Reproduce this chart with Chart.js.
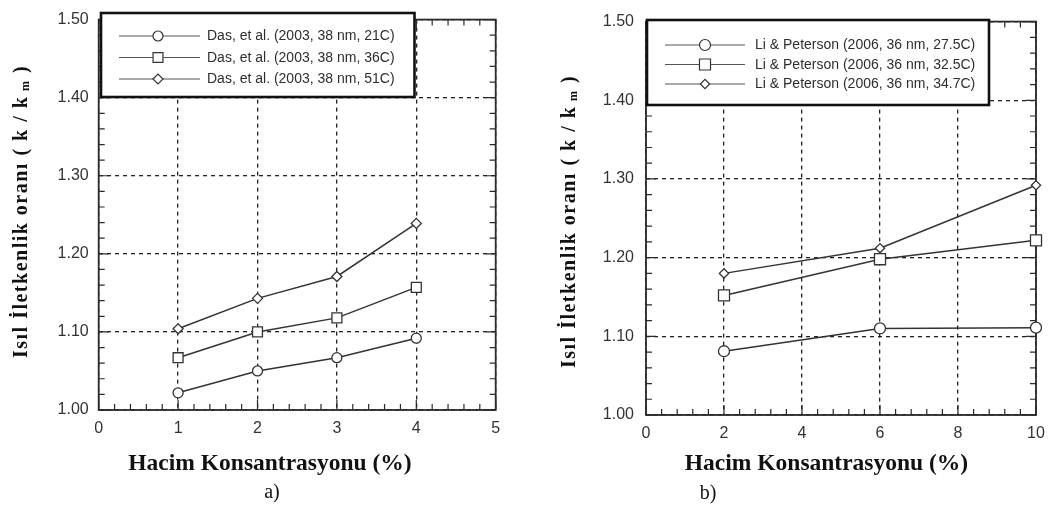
<!DOCTYPE html>
<html>
<head>
<meta charset="utf-8">
<script src="https://cdn.jsdelivr.net/npm/chart.js@4/dist/chart.umd.min.js"></script>
<style>
  html, body { margin: 0; padding: 0; background: #fff; }
  #wrap { position: relative; width: 1056px; height: 511px; overflow: hidden; }
  canvas { position: absolute; top: 0; }
  #chartA { left: 0; }
  #chartB { left: 528px; }
</style>
</head>
<body>
<div id="wrap">
  <canvas id="chartA" width="528" height="511"></canvas>
  <canvas id="chartB" width="528" height="511"></canvas>
</div>
<script>
// a) Das et al. 2003 - volume fraction (%) vs k/km
const volA = [1, 2, 3, 4];
const das21C = [1.022, 1.050, 1.067, 1.092];
const das36C = [1.067, 1.100, 1.118, 1.157];
const das51C = [1.104, 1.143, 1.171, 1.239];
const labelsA = ["Das, et al. (2003, 38 nm, 21C)", "Das, et al. (2003, 38 nm, 36C)", "Das, et al. (2003, 38 nm, 51C)"];

// b) Li & Peterson 2006
const volB = [2, 6, 10];
const li275C = [1.081, 1.110, 1.111];
const li325C = [1.152, 1.198, 1.222];
const li347C = [1.180, 1.212, 1.292];
const labelsB = ["Li & Peterson (2006, 36 nm, 27.5C)", "Li & Peterson (2006, 36 nm, 32.5C)", "Li & Peterson (2006, 36 nm, 34.7C)"];

const yTickLabels = ["1.00", "1.10", "1.20", "1.30", "1.40", "1.50"];
const yTitle = "Isıl İletkenlik oranı ( k / k";
const yTitleSub = "m";
const yTitleEnd = " )";
const xTitle = "Hacim Konsantrasyonu (%)";

const INK = "#2a2a2a";
const SANS = '"Liberation Sans", Arial, sans-serif';
const SERIF = '"Liberation Serif", "Times New Roman", serif';
const markers = ["circle", "rect", "rectRot"];

const pts = (xs, ys) => xs.map((x, i) => ({ x: x, y: ys[i] }));

// frame, inward ticks, boxed legend and the serif titles
function decor(o) {
  return {
    id: "decor",
    beforeDatasetsDraw(chart) {
      const ctx = chart.ctx, a = chart.chartArea;
      const xs = chart.scales.x, ys = chart.scales.y;
      ctx.save();
      ctx.strokeStyle = INK;
      ctx.lineWidth = 1.2;
      ctx.beginPath();
      const nx = Math.round(o.xMax / o.xMinor), xEvery = Math.round(o.xStep / o.xMinor);
      for (let i = 0; i <= nx; i++) {
        const px = xs.getPixelForValue(i * o.xMinor);
        const len = i % xEvery === 0 ? 10 : 6;
        ctx.moveTo(px, a.bottom); ctx.lineTo(px, a.bottom - len);
        ctx.moveTo(px, a.top); ctx.lineTo(px, a.top + len);
      }
      const ny = 25;
      for (let i = 0; i <= ny; i++) {
        const py = ys.getPixelForValue(1 + i * 0.02);
        const len = i % 5 === 0 ? 10 : 6;
        ctx.moveTo(a.left, py); ctx.lineTo(a.left + len, py);
        ctx.moveTo(a.right, py); ctx.lineTo(a.right - len, py);
      }
      ctx.stroke();
      ctx.lineWidth = 1.8;
      ctx.strokeRect(a.left, a.top, a.right - a.left, a.bottom - a.top);
      ctx.restore();
    },
    afterDraw(chart) {
      const ctx = chart.ctx;
      const lg = o.legend;
      ctx.save();
      // legend box
      ctx.fillStyle = "#fff";
      ctx.fillRect(lg.l, lg.t, lg.r - lg.l, lg.b - lg.t);
      ctx.strokeStyle = "#111";
      ctx.lineWidth = 2.6;
      ctx.strokeRect(lg.l, lg.t, lg.r - lg.l, lg.b - lg.t);
      chart.data.datasets.forEach((ds, i) => {
        const y = lg.rows[i];
        ctx.strokeStyle = "#555";
        ctx.lineWidth = 1.2;
        ctx.beginPath();
        ctx.moveTo(lg.x0, y); ctx.lineTo(lg.x1, y);
        ctx.stroke();
        ctx.fillStyle = "#fff";
        ctx.strokeStyle = "#333";
        ctx.lineWidth = 1.2;
        Chart.helpers.drawPoint(ctx, { pointStyle: ds.pointStyle, radius: ds.pointRadius, rotation: 0, borderWidth: 1.2 }, lg.mark, y);
        ctx.fillStyle = "#2e2e2e";
        ctx.font = "14px " + SANS;
        ctx.textAlign = "left";
        ctx.textBaseline = "middle";
        ctx.fillText(ds.label, lg.text, y + 0.5);
      });

      // x title and panel tag
      ctx.fillStyle = "#111";
      ctx.textAlign = "center";
      ctx.textBaseline = "middle";
      ctx.font = "bold 23.5px " + SERIF;
      ctx.fillText(xTitle, o.xTitle[0], o.xTitle[1]);
      ctx.font = "20px " + SERIF;
      ctx.fillText(o.tag, o.tagPos[0], o.tagPos[1]);

      // rotated y title with subscript m
      ctx.translate(o.yTitle[0], o.yTitle[1]);
      ctx.rotate(-Math.PI / 2);
      ctx.textAlign = "left";
      ctx.textBaseline = "alphabetic";
      ctx.letterSpacing = "1.5px";
      const big = "bold 20px " + SERIF, small = "bold 12px " + SERIF;
      ctx.font = big;
      const w1 = ctx.measureText(yTitle).width, w3 = ctx.measureText(yTitleEnd).width;
      ctx.font = small;
      const w2 = ctx.measureText(" " + yTitleSub).width;
      let x = -(w1 + w2 + w3) / 2;
      ctx.font = big;
      ctx.fillText(yTitle, x, 6.5);
      x += w1;
      ctx.font = small;
      ctx.fillText(" " + yTitleSub, x, 9);
      x += w2;
      ctx.font = big;
      ctx.fillText(yTitleEnd, x, 6.5);
      ctx.restore();
    }
  };
}

function panel(id, o) {
  const datasets = o.series.map((s, i) => ({
    label: o.labels[i],
    data: pts(o.xs, s),
    borderColor: "#333",
    borderWidth: 1.5,
    pointStyle: markers[i],
    pointRadius: o.radii[i],
    pointBorderWidth: 1.3,
    pointBackgroundColor: "#fff",
    pointBorderColor: "#333",
    tension: 0,
    clip: false
  }));
  return new Chart(document.getElementById(id), {
    type: "line",
    data: { datasets: datasets },
    options: {
      responsive: false,
      animation: false,
      layout: { padding: { top: o.area.top, right: 528 - o.area.right, bottom: 0, left: 0 } },
      plugins: { legend: { display: false }, tooltip: { enabled: false } },
      scales: {
        x: {
          type: "linear",
          min: 0,
          max: o.xMax,
          afterFit: (s) => { s.height = 511 - o.area.bottom; },
          ticks: { stepSize: o.xStep, padding: 9, color: "#333", font: { family: SANS, size: 16 } },
          grid: { color: "#222", lineWidth: 1.3, drawTicks: false },
          border: { display: false, dash: [4, 4] }
        },
        y: {
          min: 1,
          max: 1.5,
          afterFit: (s) => { s.width = o.area.left; },
          ticks: {
            stepSize: 0.1,
            padding: o.yPad,
            color: "#333",
            font: { family: SANS, size: 16 },
            callback: (v, i) => yTickLabels[i]
          },
          grid: { color: "#222", lineWidth: 1.3, drawTicks: false },
          border: { display: false, dash: [4, 4] }
        }
      }
    },
    plugins: [decor(o)]
  });
}

panel("chartA", {
  xs: volA,
  series: [das21C, das36C, das51C],
  labels: labelsA,
  radii: [5, 7, 5],
  xMax: 5, xStep: 1, xMinor: 0.2,
  area: { left: 98.7, right: 495.7, top: 12.7, bottom: 410 },
  yPad: 10,
  legend: { l: 101, t: 13, r: 414.5, b: 97, rows: [36, 57.5, 79], x0: 119, x1: 200, mark: 158, text: 207 },
  yTitle: [20, 211.5],
  xTitle: [270, 464],
  tag: "a)",
  tagPos: [272, 493]
});

panel("chartB", {
  xs: volB,
  series: [li275C, li325C, li347C],
  labels: labelsB,
  radii: [5.5, 7.8, 4.6],
  xMax: 10, xStep: 2, xMinor: 0.4,
  area: { left: 118, right: 508, top: 19.5, bottom: 415 },
  yPad: 12,
  legend: { l: 119, t: 20, r: 461, b: 105, rows: [45, 64.5, 84], x0: 137, x1: 217, mark: 177, text: 227 },
  yTitle: [40, 221.5],
  xTitle: [298.5, 464],
  tag: "b)",
  tagPos: [180, 494]
});
</script>
</body>
</html>
